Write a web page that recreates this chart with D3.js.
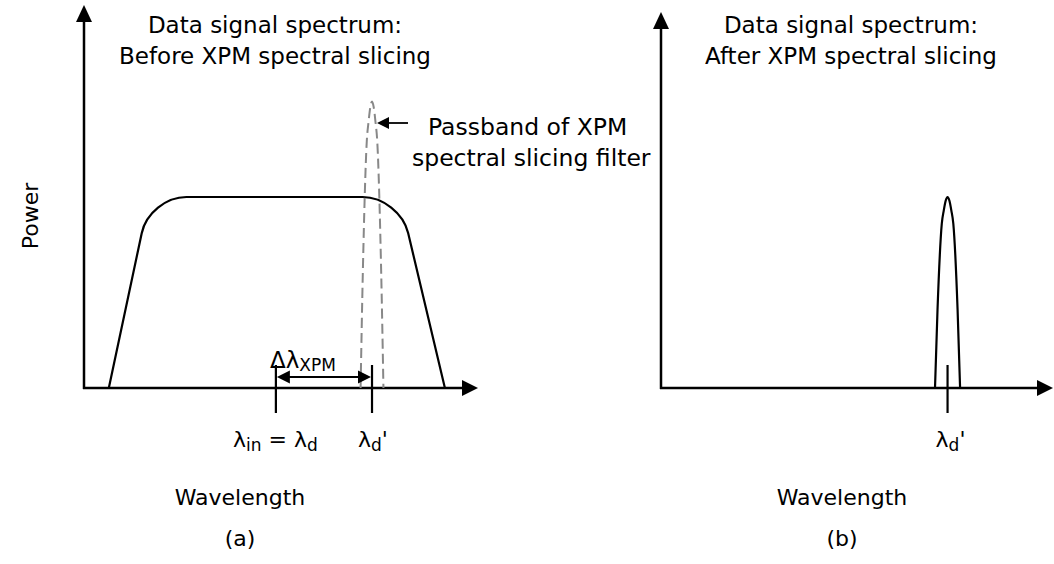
<!DOCTYPE html>
<html>
<head>
<meta charset="utf-8">
<script src="https://cdn.jsdelivr.net/npm/d3@7"></script>
<style>
  html, body { margin: 0; padding: 0; background: #fff; }
  svg { display: block; }
  text { font-family: "DejaVu Sans", Verdana, sans-serif; fill: #000; }
</style>
</head>
<body>
<svg id="chart" width="1054" height="564"></svg>
<script>
// Spectrum of the data signal before slicing: feet and shoulders of the flat-topped band
const spectrumWavelength = [6.3, 16.6, 80.1, 91.6];
const spectrumPower = [0, 0.5, 0.5, 0];

// Marked wavelengths on the axis: λin = λd and λd'
const markerWavelength = [48.7, 73.1];

// Passband of the slicing filter (panel a) and the sliced spectrum (panel b)
const filterCentre = 73.1;
const filterPeak = 0.75;
const filterHalfWidth = 2.9;
const slicedPeak = 0.5;
const slicedHalfWidth = 3.2;

// Shape of a narrow peak: normalised offset from centre and relative level
const profileOffset = [-1, -0.8, -0.46, -0.3, -0.15, 0, 0.15, 0.3, 0.46, 0.8, 1];
const profileLevel = [0, 0.41, 0.86, 0.93, 0.98, 1, 0.98, 0.93, 0.86, 0.41, 0];

// Text
const titlesA = ["Data signal spectrum:", "Before XPM spectral slicing"];
const titlesB = ["Data signal spectrum:", "After XPM spectral slicing"];
const filterNote = ["Passband of XPM", "spectral slicing filter"];
const yTitle = "Power";
const xTitle = "Wavelength";
const panelTags = ["(a)", "(b)"];

const svg = d3.select("#chart");

const y = d3.scaleLinear().domain([0, 1]).range([388, 6]);
const xA = d3.scaleLinear().domain([0, 100]).range([84, 478]);
const xB = d3.scaleLinear().domain([0, 100]).range([661, 1053]);

const AXIS_W = 2.5, LINE_W = 2.2;
const BIG = 23, SMALL = 17, LABEL = 22;

function arrowHead(g, tipX, tipY, dir, len, half) {
  let pts;
  if (dir === "up") pts = [[tipX, tipY], [tipX - half, tipY + len], [tipX + half, tipY + len]];
  else if (dir === "right") pts = [[tipX, tipY], [tipX - len, tipY - half], [tipX - len, tipY + half]];
  else pts = [[tipX, tipY], [tipX + len, tipY - half], [tipX + len, tipY + half]];
  g.append("path").attr("d", "M" + pts.map(p => p.join(",")).join("L") + "Z").attr("fill", "#000");
}

function drawAxes(g, x, yTopPx) {
  const x0 = x.range()[0], x1 = x.range()[1], y0 = y(0);
  // horizontal axis: d3 axis with its domain line only
  g.append("g")
    .attr("transform", `translate(0,${y0})`)
    .call(d3.axisBottom(x).tickValues([]).tickSizeOuter(0))
    .call(a => a.select(".domain").attr("stroke", "#000").attr("stroke-width", AXIS_W).attr("d", `M${x0 - 1},0H${x1 - 6}`));
  arrowHead(g, x1, y0, "right", 16, 8);
  // vertical axis
  g.append("line")
    .attr("x1", x0).attr("x2", x0)
    .attr("y1", y0 + 1).attr("y2", yTopPx + 6)
    .attr("stroke", "#000").attr("stroke-width", AXIS_W);
  arrowHead(g, x0, yTopPx, "up", 17, 8);
}

function peakPath(x, centre, halfWidth, peak) {
  const pts = profileOffset.map((o, i) => [x(centre + o * halfWidth), y(peak * profileLevel[i])]);
  return d3.line().curve(d3.curveMonotoneX)(pts);
}

function roundedTrapezoid(x) {
  const P = spectrumWavelength.map((w, i) => [x(w), y(spectrumPower[i])]);
  const r = 37, k = 0.55;
  const p = d3.path();
  p.moveTo(P[0][0], P[0][1]);
  for (let i = 1; i <= 2; i++) {
    const V = P[i], A = P[i - 1], N = P[i + 1];
    const la = Math.hypot(A[0] - V[0], A[1] - V[1]);
    const ln = Math.hypot(N[0] - V[0], N[1] - V[1]);
    const s = [V[0] + (A[0] - V[0]) * r / la, V[1] + (A[1] - V[1]) * r / la];
    const e = [V[0] + (N[0] - V[0]) * r / ln, V[1] + (N[1] - V[1]) * r / ln];
    p.lineTo(s[0], s[1]);
    p.bezierCurveTo(
      s[0] + (V[0] - s[0]) * k, s[1] + (V[1] - s[1]) * k,
      e[0] + (V[0] - e[0]) * k, e[1] + (V[1] - e[1]) * k,
      e[0], e[1]);
  }
  p.lineTo(P[3][0], P[3][1]);
  return p.toString();
}

function titleBlock(cx, lines) {
  lines.forEach((t, i) => {
    svg.append("text").attr("x", cx).attr("y", 33 + i * 31)
      .attr("text-anchor", "middle").attr("font-size", BIG).text(t);
  });
}

function marker(g, xpx) {
  g.append("line").attr("x1", xpx).attr("x2", xpx)
    .attr("y1", 365).attr("y2", 413)
    .attr("stroke", "#000").attr("stroke-width", LINE_W);
}

function subscripted(g, xStart, parts) {
  // parts: [text, isSub] pairs
  const t = g.append("text").attr("x", xStart).attr("y", 447).attr("font-size", 22);
  let low = false;
  parts.forEach(([s, sub]) => {
    const sp = t.append("tspan").text(s);
    if (sub) sp.attr("font-size", SMALL);
    if (sub && !low) { sp.attr("dy", 4); low = true; }
    else if (!sub && low) { sp.attr("dy", -4); low = false; }
  });
  return t;
}

// ---------- Panel (a) ----------
const gA = svg.append("g");
drawAxes(gA, xA, y(1) - 1);
titleBlock(275, titlesA);

gA.append("path").attr("d", roundedTrapezoid(xA))
  .attr("fill", "none").attr("stroke", "#000").attr("stroke-width", LINE_W);

gA.append("path").attr("d", peakPath(xA, filterCentre, filterHalfWidth, filterPeak))
  .attr("fill", "none").attr("stroke", "#888").attr("stroke-width", 2)
  .attr("stroke-dasharray", "10,5");

// filter pointer and note
gA.append("line").attr("x1", 408).attr("x2", 388).attr("y1", 123).attr("y2", 123)
  .attr("stroke", "#000").attr("stroke-width", 1.8);
arrowHead(gA, xA(filterCentre) + 5, 123, "left", 12, 6);
svg.append("text").attr("x", 428).attr("y", 135).attr("font-size", BIG + 0.5).text(filterNote[0]);
svg.append("text").attr("x", 412).attr("y", 166).attr("font-size", BIG + 0.5).text(filterNote[1]);

// wavelength markers and the separation arrow between them
markerWavelength.forEach(w => marker(gA, xA(w)));
const ax0 = xA(markerWavelength[0]), ax1 = xA(markerWavelength[1]);
gA.append("line").attr("x1", ax0 + 10).attr("x2", ax1 - 10).attr("y1", 377).attr("y2", 377)
  .attr("stroke", "#000").attr("stroke-width", 1.8);
arrowHead(gA, ax0 + 1, 377, "left", 13, 6.5);
arrowHead(gA, ax1 - 1, 377, "right", 13, 6.5);
const dl = gA.append("text").attr("x", 270).attr("y", 368).attr("font-size", BIG);
dl.append("tspan").text("Δλ");
dl.append("tspan").attr("font-size", SMALL).attr("dy", 3).text("XPM");

subscripted(gA, 233, [["λ", false], ["in", true], [" = λ", false], ["d", true]]);
subscripted(gA, 358, [["λ", false], ["d", true], ["'", false]]);

svg.append("text").attr("x", 240).attr("y", 505).attr("text-anchor", "middle")
  .attr("font-size", LABEL).text(xTitle);
svg.append("text").attr("x", 240).attr("y", 546).attr("text-anchor", "middle")
  .attr("font-size", LABEL).text(panelTags[0]);

svg.append("text").attr("transform", "translate(38,216) rotate(-90)")
  .attr("text-anchor", "middle").attr("font-size", LABEL).text(yTitle);

// ---------- Panel (b) ----------
const gB = svg.append("g");
drawAxes(gB, xB, 12);
titleBlock(851, titlesB);

gB.append("path").attr("d", peakPath(xB, filterCentre, slicedHalfWidth, slicedPeak))
  .attr("fill", "none").attr("stroke", "#000").attr("stroke-width", LINE_W);
marker(gB, xB(markerWavelength[1]));
subscripted(gB, xB(markerWavelength[1]) - 12, [["λ", false], ["d", true], ["'", false]]);

svg.append("text").attr("x", 842).attr("y", 505).attr("text-anchor", "middle")
  .attr("font-size", LABEL).text(xTitle);
svg.append("text").attr("x", 842).attr("y", 546).attr("text-anchor", "middle")
  .attr("font-size", LABEL).text(panelTags[1]);
</script>
</body>
</html>
